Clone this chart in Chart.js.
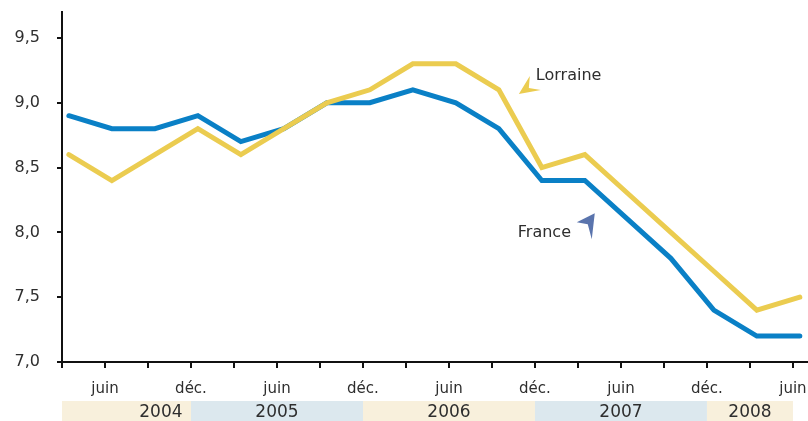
<!DOCTYPE html>
<html>
<head>
<meta charset="utf-8">
<script src="https://cdn.jsdelivr.net/npm/chart.js@4"></script>
<style>
  body { margin: 0; background: #fff; }
  #wrap { width: 808px; height: 421px; position: relative; }
</style>
</head>
<body>
<div id="wrap"><canvas id="chart"></canvas></div>
<script>
// quarters from mars 2004 to juin 2008
const quarterLabels = ['', 'juin', '', 'déc.', '', 'juin', '', 'déc.', '', 'juin', '', 'déc.', '', 'juin', '', 'déc.', '', 'juin'];
const franceValues = [8.9, 8.8, 8.8, 8.9, 8.7, 8.8, 9.0, 9.0, 9.1, 9.0, 8.8, 8.4, 8.4, 8.1, 7.8, 7.4, 7.2, 7.2];
const lorraineValues = [8.6, 8.4, 8.6, 8.8, 8.6, 8.8, 9.0, 9.1, 9.3, 9.3, 9.1, 8.5, 8.6, 8.3, 8.0, 7.7, 7.4, 7.5];
const yTickValues = [7.0, 7.5, 8.0, 8.5, 9.0, 9.5];
const years = ['2004', '2005', '2006', '2007', '2008'];
const yearStart = [0, 3, 7, 11, 15];
const yearEnd = [3, 7, 11, 15, 17];
const yearLabelAt = [2.3, 5, 9, 13, 16];

const pointOffset = 0.16;
const blue = '#0a80c6';
const yellow = '#ebcc50';
const textColor = '#2e2e2e';
const fontFamily = '"DejaVu Sans", sans-serif';

const toPoints = (values) => values.map((v, i) => ({ x: i + pointOffset, y: v }));

const decorations = {
  id: 'decorations',
  afterDraw(chart) {
    const { ctx, chartArea, scales } = chart;
    const x = scales.x, y = scales.y;
    ctx.save();

    // year bands below the axis
    const top = chartArea.bottom + 39;
    years.forEach((yr, i) => {
      const x0 = x.getPixelForValue(yearStart[i]);
      const x1 = x.getPixelForValue(yearEnd[i]);
      ctx.fillStyle = i % 2 === 0 ? '#f8f0dc' : '#dce8ee';
      ctx.fillRect(x0, top, x1 - x0, 20);
      ctx.fillStyle = textColor;
      ctx.font = '17px ' + fontFamily;
      ctx.textAlign = 'center';
      ctx.textBaseline = 'middle';
      ctx.fillText(yr, x.getPixelForValue(yearLabelAt[i]), top + 12);
    });

    // series labels with small arrowheads
    ctx.font = '16px ' + fontFamily;
    ctx.textAlign = 'left';
    ctx.textBaseline = 'middle';

    const lx = x.getPixelForValue(11.02), ly = y.getPixelForValue(9.207);
    ctx.fillStyle = textColor;
    ctx.fillText('Lorraine', lx, ly);
    ctx.fillStyle = yellow;
    ctx.beginPath();
    ctx.moveTo(lx - 17, ly + 18);
    ctx.lineTo(lx - 6, ly);
    ctx.lineTo(lx - 7, ly + 12);
    ctx.lineTo(lx + 5, ly + 14);
    ctx.closePath();
    ctx.fill();

    const fx = x.getPixelForValue(10.6), fy = y.getPixelForValue(8.0);
    ctx.fillStyle = textColor;
    ctx.fillText('France', fx, fy);
    ctx.fillStyle = '#5a74ad';
    ctx.beginPath();
    ctx.moveTo(fx + 77, fy - 19);
    ctx.lineTo(fx + 74, fy + 7);
    ctx.lineTo(fx + 70, fy - 8);
    ctx.lineTo(fx + 59, fy - 10);
    ctx.closePath();
    ctx.fill();

    ctx.restore();
  }
};

new Chart(document.getElementById('chart'), {
  type: 'line',
  data: {
    datasets: [
      {
        label: 'Lorraine',
        data: toPoints(lorraineValues),
        borderColor: yellow,
        borderWidth: 5,
        pointRadius: 0,
        tension: 0,
        borderCapStyle: 'round',
      },
      {
        label: 'France',
        data: toPoints(franceValues),
        borderColor: blue,
        borderWidth: 5,
        pointRadius: 0,
        tension: 0,
        borderCapStyle: 'round',
      },
    ],
  },
  options: {
    responsive: true,
    maintainAspectRatio: false,
    animation: false,
    layout: { padding: { top: 12, right: 0, left: 0, bottom: 0 } },
    plugins: { legend: { display: false }, tooltip: { enabled: false } },
    scales: {
      x: {
        type: 'linear',
        min: 0,
        max: 17.35,
        afterBuildTicks: (scale) => { scale.ticks = quarterLabels.map((_, i) => ({ value: i })); },
        afterFit: (scale) => {
          scale.height = 59;
          scale.paddingLeft = 0;
          scale.paddingRight = 0;
        },
        grid: { drawOnChartArea: false, color: '#111', lineWidth: 2, tickLength: 6 },
        border: { color: '#111', width: 2 },
        ticks: {
          autoSkip: false,
          maxRotation: 0,
          padding: 12,
          color: textColor,
          font: { family: fontFamily, size: 15 },
          callback: (v) => quarterLabels[v] || '',
        },
      },
      y: {
        min: 7.0,
        max: 9.7,
        afterBuildTicks: (scale) => { scale.ticks = yTickValues.map((v) => ({ value: v })); },
        afterFit: (scale) => {
          scale.width = 62;
          scale.paddingTop = 0;
          scale.paddingBottom = 0;
        },
        grid: { drawOnChartArea: false, color: '#111', lineWidth: 2, tickLength: 5 },
        border: { color: '#111', width: 2 },
        ticks: {
          padding: 17,
          color: textColor,
          font: { family: fontFamily, size: 16 },
          callback: (v) => v.toFixed(1).replace('.', ','),
        },
      },
    },
  },
  plugins: [decorations],
});
</script>
</body>
</html>
